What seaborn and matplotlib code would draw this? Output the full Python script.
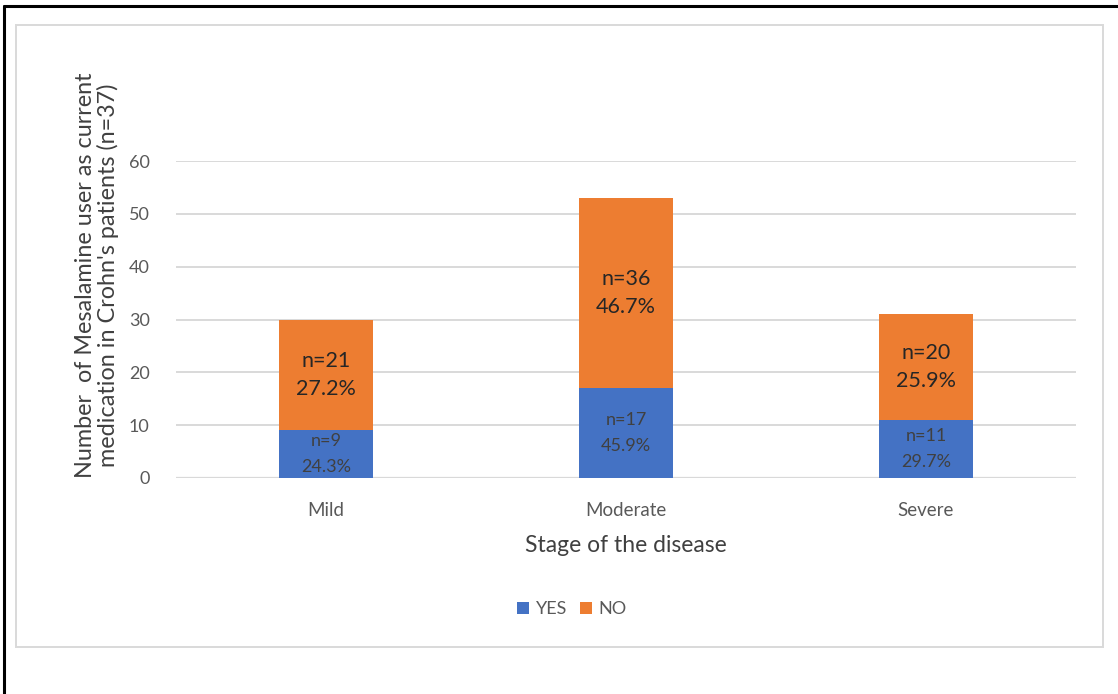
import matplotlib
matplotlib.use("Agg")
import matplotlib.pyplot as plt
from matplotlib.patches import Rectangle
from matplotlib.lines import Line2D
import seaborn as sns
import pandas as pd

# Data
stages = ["Mild", "Moderate", "Severe"]
yes_counts = [9, 17, 11]
no_counts = [21, 36, 20]
yes_pct = ["24.3%", "45.9%", "29.7%"]
no_pct = ["27.2%", "46.7%", "25.9%"]
y_ticks = [0, 10, 20, 30, 40, 50, 60]

BLUE = "#4472C4"
ORANGE = "#ED7D31"
GRID = "#d9d9d9"

sns.set_theme(style="white")
plt.rcParams["font.family"] = ["Lato", "DejaVu Sans"]

W, H = 1118, 694
fig = plt.figure(figsize=(W / 100, H / 100), dpi=100)
fig.patch.set_facecolor("white")

# outer frame (top and left edges) and chart-area border
fig.add_artist(Line2D([4 / W, 1.0], [1 - 6 / H, 1 - 6 / H], color="black", lw=2.2,
                      transform=fig.transFigure))
fig.add_artist(Line2D([4 / W, 4 / W], [1 - 6 / H, 0.0], color="black", lw=2.2,
                      transform=fig.transFigure))
fig.add_artist(Rectangle((16 / W, 1 - 647 / H), (1103 - 16) / W, (647 - 25) / H,
                         transform=fig.transFigure, facecolor="white",
                         edgecolor="#d9d9d9", lw=1.4, zorder=0))

ax = fig.add_axes([176 / W, 1 - 478 / H, 900 / W, (478 - 161) / H])
ax.set_facecolor("none")

df = pd.DataFrame({
    "stage": stages,
    "yes": yes_counts,
    "no": no_counts,
})
df["total"] = df["yes"] + df["no"]

# stacked bars: full height in orange, YES segment drawn over it in blue
sns.barplot(data=df, x="stage", y="total", color=ORANGE, width=0.315,
            saturation=1, ax=ax, zorder=3, label="NO", linewidth=0)
sns.barplot(data=df, x="stage", y="yes", color=BLUE, width=0.315,
            saturation=1, ax=ax, zorder=4, label="YES", linewidth=0)
handles, labels = ax.get_legend_handles_labels()
if ax.get_legend() is not None:
    ax.get_legend().remove()

ax.set_xlim(-0.5, 2.5)
ax.set_ylim(0, 60)
ax.set_yticks(y_ticks)
ax.yaxis.grid(True, color=GRID, lw=1.4, zorder=0)
ax.set_axisbelow(True)
for s in ax.spines.values():
    s.set_visible(False)
ax.axhline(0, color=GRID, lw=1.6, zorder=1)
ax.tick_params(axis="y", length=0, pad=19, labelsize=13, labelcolor="#595959")
ax.tick_params(axis="x", length=0, pad=17, labelsize=13.5, labelcolor="#595959")
ax.set_xlabel("")
ax.set_ylabel("")

# segment labels
for i, (y, n) in enumerate(zip(yes_counts, no_counts)):
    ax.text(i, y / 2, f"n={y}\n{yes_pct[i]}", ha="center", va="center",
            fontsize=13, color="#404040", linespacing=1.75, zorder=5)
    ax.text(i, y + n / 2, f"n={n}\n{no_pct[i]}", ha="center", va="center",
            fontsize=15.5, color="#262626", linespacing=1.55, zorder=5)

# axis titles
fig.text(626 / W, 1 - 546 / H, "Stage of the disease", ha="center", va="center",
         fontsize=16.5, color="#404040")
fig.text(97 / W, 1 - 275 / H,
         "Number  of Mesalamine user as current\nmedication in Crohn's patients (n=37)",
         ha="center", va="center", rotation=90, fontsize=16.8, color="#404040",
         linespacing=1.05)

# legend
order = [labels.index("YES"), labels.index("NO")]
leg = fig.legend([handles[k] for k in order], [labels[k] for k in order],
                 loc="center", bbox_to_anchor=(572 / W, 1 - 609 / H), ncol=2,
                 frameon=False, fontsize=13, handlelength=0.65, handleheight=0.65,
                 handletextpad=0.4, columnspacing=0.7)
for t in leg.get_texts():
    t.set_color("#595959")

fig.savefig("out.png", dpi=100, facecolor="white")
